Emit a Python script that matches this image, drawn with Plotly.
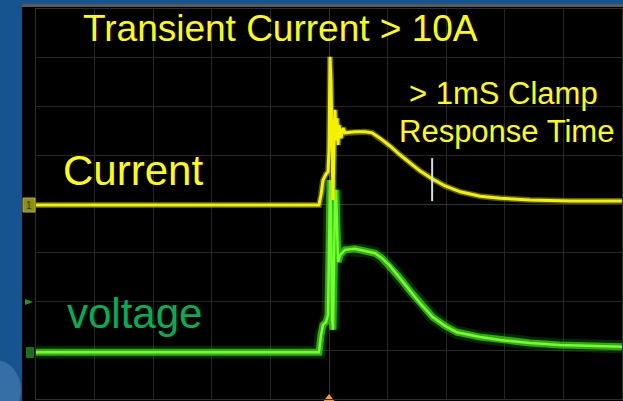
import plotly.graph_objects as go

# ---- data (x in divisions from trigger, y in divisions from centre) ----
current_x = [-5.0, -0.171, -0.137, -0.102, -0.051, -0.017, 0.0, 0.017, 0.034, 0.051, 0.068,
             0.085, 0.102, 0.119, 0.137, 0.154, 0.171, 0.205, 0.239, 0.273, 0.444, 0.614,
             0.734, 0.87, 1.04, 1.21, 1.38, 1.55, 1.77, 1.98, 2.24, 2.58, 2.92, 3.43, 4.11, 5.0]
current_y = [-0.02, -0.02, 0.185, 0.49, 0.615, 0.66, 1.11, 3.02, 2.54, 0.70, 0.08,
             1.11, 1.93, 1.31, 1.76, 1.21, 1.62, 1.35, 1.56, 1.46, 1.48, 1.48,
             1.46, 1.35, 1.19, 1.01, 0.84, 0.68, 0.51, 0.37, 0.25, 0.16, 0.12, 0.08, 0.06, 0.06]

voltage_x = [-5.0, -0.171, -0.137, -0.102, -0.051, -0.017, 0.0, 0.017, 0.034, 0.051, 0.068,
             0.085, 0.102, 0.119, 0.137, 0.154, 0.188, 0.273, 0.444, 0.614, 0.785, 0.904,
             1.04, 1.21, 1.38, 1.55, 1.77, 1.98, 2.18, 2.58, 2.92, 3.43, 3.94, 5.0]
voltage_y = [-3.04, -3.04, -2.69, -2.48, -2.42, -2.28, -0.94, 0.49, -0.02, -2.38, -2.58,
             -1.56, 0.08, 0.29, -0.53, -1.19, -1.05, -0.94, -0.92, -0.96, -1.01, -1.11,
             -1.27, -1.52, -1.78, -2.03, -2.32, -2.50, -2.63, -2.73, -2.79, -2.85, -2.89, -2.93]

cursor_x = 1.76
cursor_y = [0.94, 0.06]
trigger_x = 0.0

title_text = "Transient Current > 10A"
clamp_line1 = "> 1mS Clamp"
clamp_line2 = "Response Time"
current_label = "Current"
voltage_label = "voltage"

# ---- layout geometry ----
W, H = 623, 401
ML, MR, MT, MB = 36, 1, 9, 2
PW, PH = W - ML - MR, H - MT - MB


def px(x):
    return (x - ML) / PW


def py(y):
    return (H - MB - y) / PH


FONT = "Liberation Sans, Arial, sans-serif"
YEL = "#ffff00"
GRN_TXT = "#00b050"

fig = go.Figure()

# voltage trace (noisy band look)
fig.add_trace(go.Scatter(x=voltage_x, y=voltage_y, mode="lines",
                         line=dict(color="rgba(40,170,0,0.22)", width=13), hoverinfo="skip"))
fig.add_trace(go.Scatter(x=voltage_x, y=voltage_y, mode="lines",
                         line=dict(color="rgba(70,225,20,0.7)", width=7), hoverinfo="skip"))
fig.add_trace(go.Scatter(x=voltage_x, y=voltage_y, mode="lines",
                         line=dict(color="#70ff30", width=2.5), hoverinfo="skip"))

# current trace
fig.add_trace(go.Scatter(x=current_x, y=current_y, mode="lines",
                         line=dict(color="rgba(200,200,0,0.45)", width=6), hoverinfo="skip"))
fig.add_trace(go.Scatter(x=current_x, y=current_y, mode="lines",
                         line=dict(color="#f2f200", width=3), hoverinfo="skip"))

# trigger marker
fig.add_trace(go.Scatter(x=[trigger_x], y=[-4], mode="markers", cliponaxis=False,
                         marker=dict(symbol="triangle-up", size=10, color="#ff9a2e"),
                         hoverinfo="skip"))

shapes = [
    # black scope area
    dict(type="rect", xref="paper", yref="paper", x0=px(22), x1=px(623), y0=py(401), y1=py(7),
         fillcolor="black", line_width=0, layer="below"),
    # top gray bar
    dict(type="rect", xref="paper", yref="paper", x0=px(22), x1=px(623), y0=py(7), y1=py(4),
         fillcolor="#5a5a5a", line_width=0, layer="below"),
    # faint glow bottom-left
    dict(type="circle", xref="paper", yref="paper", x0=px(-30), x1=px(21), y0=py(420), y1=py(360),
         fillcolor="rgba(150,190,230,0.25)", line_width=0, layer="below"),
    # cursor
    dict(type="line", xref="x", yref="y", x0=cursor_x, x1=cursor_x, y0=cursor_y[0], y1=cursor_y[1],
         line=dict(color="#cfe2ea", width=2)),
    # channel 1 marker
    dict(type="rect", xref="paper", yref="paper", x0=px(23), x1=px(35), y0=py(212), y1=py(198),
         fillcolor="#8f8f10", line=dict(color="#b5b520", width=1)),
    # channel 2 markers
    dict(type="path", xref="paper", yref="paper",
         path=f"M {px(25)} {py(299)} L {px(33)} {py(302)} L {px(25)} {py(305)} Z",
         fillcolor="#1f9a1f", line_width=0),
    dict(type="rect", xref="paper", yref="paper", x0=px(26), x1=px(34), y0=py(358), y1=py(347),
         fillcolor="rgba(30,140,30,0.8)", line_width=0),
]

annotations = [
    dict(text=title_text, x=px(280), y=py(28.5), xref="paper", yref="paper", showarrow=False,
         xanchor="center", yanchor="middle", font=dict(family=FONT, size=37, color=YEL)),
    dict(text=clamp_line1, x=px(503), y=py(93), xref="paper", yref="paper", showarrow=False,
         xanchor="center", yanchor="middle", font=dict(family=FONT, size=31, color=YEL)),
    dict(text=clamp_line2, x=px(506), y=py(131), xref="paper", yref="paper", showarrow=False,
         xanchor="center", yanchor="middle", font=dict(family=FONT, size=31, color=YEL)),
    dict(text=current_label, x=px(133), y=py(170), xref="paper", yref="paper", showarrow=False,
         xanchor="center", yanchor="middle", font=dict(family=FONT, size=42, color=YEL)),
    dict(text=voltage_label, x=px(134.5), y=py(313.5), xref="paper", yref="paper", showarrow=False,
         xanchor="center", yanchor="middle", font=dict(family=FONT, size=42, color=GRN_TXT)),
    dict(text="1", x=px(29), y=py(205), xref="paper", yref="paper", showarrow=False,
         xanchor="center", yanchor="middle", font=dict(family=FONT, size=10, color="#2a2a00")),
]

fig.update_layout(
    width=W, height=H,
    margin=dict(l=ML, r=MR, t=MT, b=MB, pad=0),
    paper_bgcolor="#165490",
    plot_bgcolor="black",
    showlegend=False,
    shapes=shapes,
    annotations=annotations,
    xaxis=dict(range=[-5, 5], dtick=1, tick0=0, showgrid=True, gridcolor="#262626", gridwidth=1,
               zeroline=True, zerolinecolor="#333333", zerolinewidth=1,
               showticklabels=False, ticks="", showline=True, linecolor="#2e2e2e", mirror=True,
               fixedrange=True),
    yaxis=dict(range=[-4, 4], dtick=1, tick0=0, showgrid=True, gridcolor="#262626", gridwidth=1,
               zeroline=True, zerolinecolor="#333333", zerolinewidth=1,
               showticklabels=False, ticks="", showline=True, linecolor="#2e2e2e", mirror=True,
               fixedrange=True),
)

fig.write_html("out.html", config={"displayModeBar": False})
